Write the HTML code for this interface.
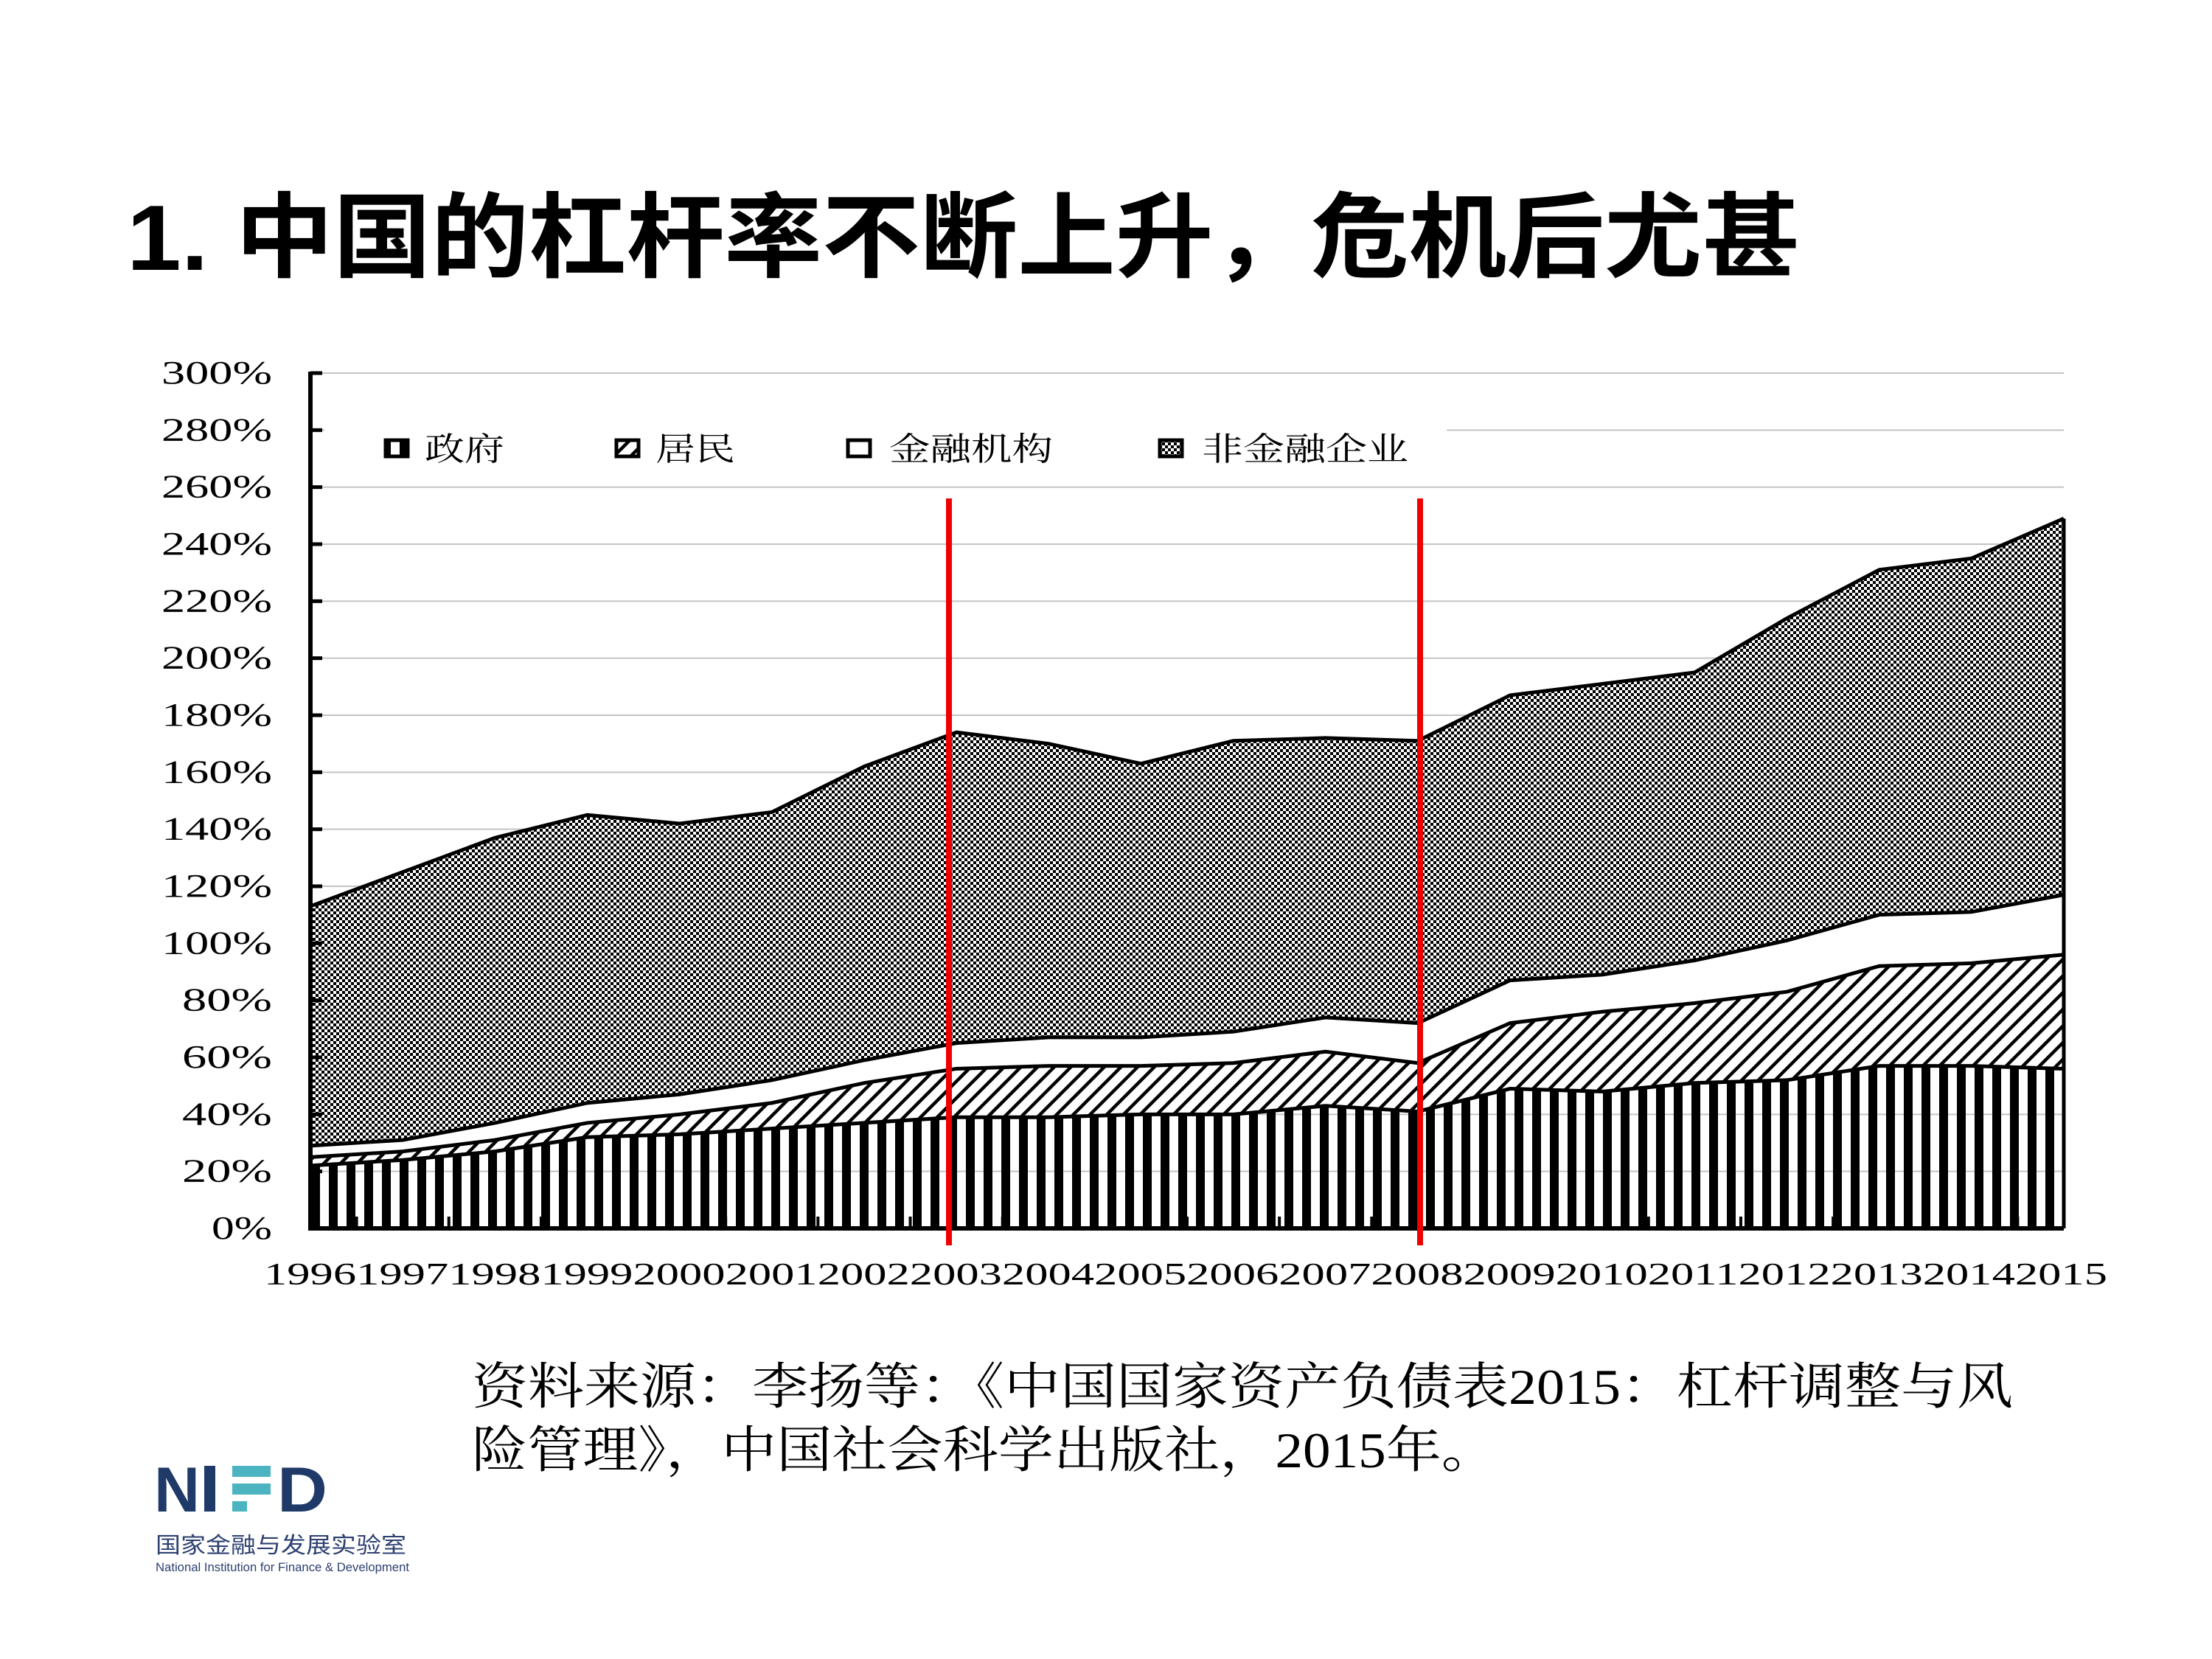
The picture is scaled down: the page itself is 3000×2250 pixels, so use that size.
<!DOCTYPE html>
<html><head><meta charset="utf-8"><style>
html,body{margin:0;padding:0;background:#fff;width:3000px;height:2250px;overflow:hidden}
</style></head><body>
<svg id="s" width="3000" height="2250" viewBox="0 0 3000 2250" xmlns="http://www.w3.org/2000/svg">
<defs>
<pattern id="pv" width="24" height="24" patternUnits="userSpaceOnUse" x="422"><rect x="0" y="0" width="12" height="24" fill="#000"/></pattern>
<pattern id="pd" width="16" height="16" patternUnits="userSpaceOnUse" patternTransform="rotate(45)"><rect x="0" y="0" width="16" height="16" fill="#fff"/><rect x="0" y="0" width="4.5" height="16" fill="#000"/></pattern>
<pattern id="pc" width="8" height="8" patternUnits="userSpaceOnUse"><rect width="8" height="8" fill="#fff"/><rect width="4" height="4" fill="#000"/><rect x="4" y="4" width="4" height="4" fill="#000"/></pattern>
</defs>
<text x="172" y="366" font-family="Liberation Sans, Noto Sans CJK SC, sans-serif" font-weight="bold" font-size="126" textLength="2269" lengthAdjust="spacingAndGlyphs">1. 中国的杠杆率不断上升，危机后尤甚</text>
<g id="grid"></g>
<g id="areas"></g>
<rect x="440" y="560" width="1522" height="80" fill="#fff"/>
<g font-family="Liberation Serif, Noto Serif CJK SC, serif" font-size="44">
<rect x="523" y="597" width="30" height="22" fill="url(#pv)" stroke="#000" stroke-width="5"/>
<text x="576" y="624" textLength="108" lengthAdjust="spacingAndGlyphs">政府</text>
<rect x="836" y="597" width="30" height="22" fill="url(#pd)" stroke="#000" stroke-width="5"/>
<text x="889" y="624" textLength="108" lengthAdjust="spacingAndGlyphs">居民</text>
<rect x="1150" y="597" width="30" height="22" fill="#fff" stroke="#000" stroke-width="5"/>
<text x="1206" y="624" textLength="222" lengthAdjust="spacingAndGlyphs">金融机构</text>
<rect x="1573" y="597" width="30" height="22" fill="url(#pc)" stroke="#000" stroke-width="5"/>
<text x="1630" y="624" textLength="280" lengthAdjust="spacingAndGlyphs">非金融企业</text>
</g>
<g id="axis"></g>
<line x1="1287" y1="676" x2="1287" y2="1689" stroke="#e00" stroke-width="8"/>
<line x1="1926" y1="676" x2="1926" y2="1689" stroke="#e00" stroke-width="8"/>
<text x="358" y="1742" font-family="Liberation Serif, serif" font-size="42" textLength="2500" lengthAdjust="spacingAndGlyphs">19961997199819992000200120022003200420052006200720082009201020112012201320142015</text>
<g font-family="Liberation Serif, Noto Serif CJK SC, serif" font-size="68">
<text x="640" y="1904" textLength="2090" lengthAdjust="spacingAndGlyphs">资料来源：李扬等：《中国国家资产负债表2015：杠杆调整与风</text>
<text x="640" y="1990" textLength="1390" lengthAdjust="spacingAndGlyphs">险管理》，中国社会科学出版社，2015年。</text>
</g>
<g font-family="Liberation Sans, sans-serif" font-weight="bold" fill="#1f3a68">
<text x="209" y="2050" font-size="86" textLength="62" lengthAdjust="spacingAndGlyphs">N</text>
<rect x="277" y="1988" width="15" height="62"/>
<rect x="315" y="1988" width="52" height="15" fill="#4bb4c0"/>
<rect x="315" y="2012" width="52" height="15" fill="#4bb4c0"/>
<rect x="315" y="2036" width="20" height="14" fill="#4bb4c0"/>
<text x="376" y="2050" font-size="86" textLength="68" lengthAdjust="spacingAndGlyphs">D</text>
</g>
<text x="211" y="2106" font-family="Liberation Sans, Noto Sans CJK SC, sans-serif" font-size="30" fill="#2e4070" textLength="340" lengthAdjust="spacingAndGlyphs">国家金融与发展实验室</text>
<text x="211" y="2131" font-family="Liberation Sans, sans-serif" font-size="17" fill="#2e4070" textLength="344" lengthAdjust="spacingAndGlyphs">National Institution for Finance &amp; Development</text>
</svg>
<script>
var NS="http://www.w3.org/2000/svg";
function el(t,a,p){var e=document.createElementNS(NS,t);for(var k in a)e.setAttribute(k,a[k]);document.getElementById(p).appendChild(e);return e;}
var X0=421,X1=2799,Y0=1666,K=3.8667;
function X(i){return X0+i*(X1-X0)/19;}function Y(v){return Y0-v*K;}
for(var v=20;v<=300;v+=20){el("line",{x1:X0,x2:X1,y1:Y(v),y2:Y(v),stroke:"#c4c4c4","stroke-width":2},"grid");}
var tot=[113,125,137,145,142,146,162,174,170,163,171,172,171,187,191,195,214,231,235,249];
var fin=[29,31,37,44,47,52,59,65,67,67,69,74,72,87,89,94,101,110,111,117];
var hh=[25,27,31,37,40,44,51,56,57,57,58,62,58,72,76,79,83,92,93,96];
var gv=[22,24,27,32,33,35,37,39,39,40,40,43,41,49,48,51,52,57,57,56];
function band(top,bot,fill){var d="M";for(var i=0;i<20;i++)d+=X(i)+","+Y(top[i])+" L";for(var i=19;i>=0;i--)d+=X(i)+","+Y(bot?bot[i]:0)+(i?" L":" Z");el("path",{d:d,fill:fill,stroke:"none"},"areas");
var l="M";for(var i=0;i<20;i++)l+=X(i)+","+Y(top[i])+(i<19?" L":"");el("path",{d:l,fill:"none",stroke:"#000","stroke-width":5},"areas");}
band(tot,fin,"url(#pc)");band(fin,hh,"#fff");band(hh,gv,"url(#pd)");band(gv,null,"url(#pv)");
el("line",{x1:X1,x2:X1,y1:Y(tot[19]),y2:Y0,stroke:"#000","stroke-width":5},"areas");
el("line",{x1:X0,x2:X0,y1:Y(300)-2,y2:Y0+3,stroke:"#000","stroke-width":6},"axis");
el("line",{x1:X0,x2:X1,y1:Y0,y2:Y0,stroke:"#000","stroke-width":6},"axis");
for(var v=0;v<=300;v+=20){el("line",{x1:X0,x2:X0+16,y1:Y(v),y2:Y(v),stroke:"#000","stroke-width":5},"axis");
var t=el("text",{x:369,y:Y(v)+14,"text-anchor":"end","font-family":"Liberation Serif, serif","font-size":44,textLength:v==0?82:(v<100?122:150),lengthAdjust:"spacingAndGlyphs"},"axis");t.textContent=v+"%";}
for(var i=1;i<20;i++)el("line",{x1:X(i)-0.5*(X1-X0)/19,x2:X(i)-0.5*(X1-X0)/19,y1:Y0,y2:Y0-16,stroke:"#000","stroke-width":4},"axis");
</script>
</body></html>
